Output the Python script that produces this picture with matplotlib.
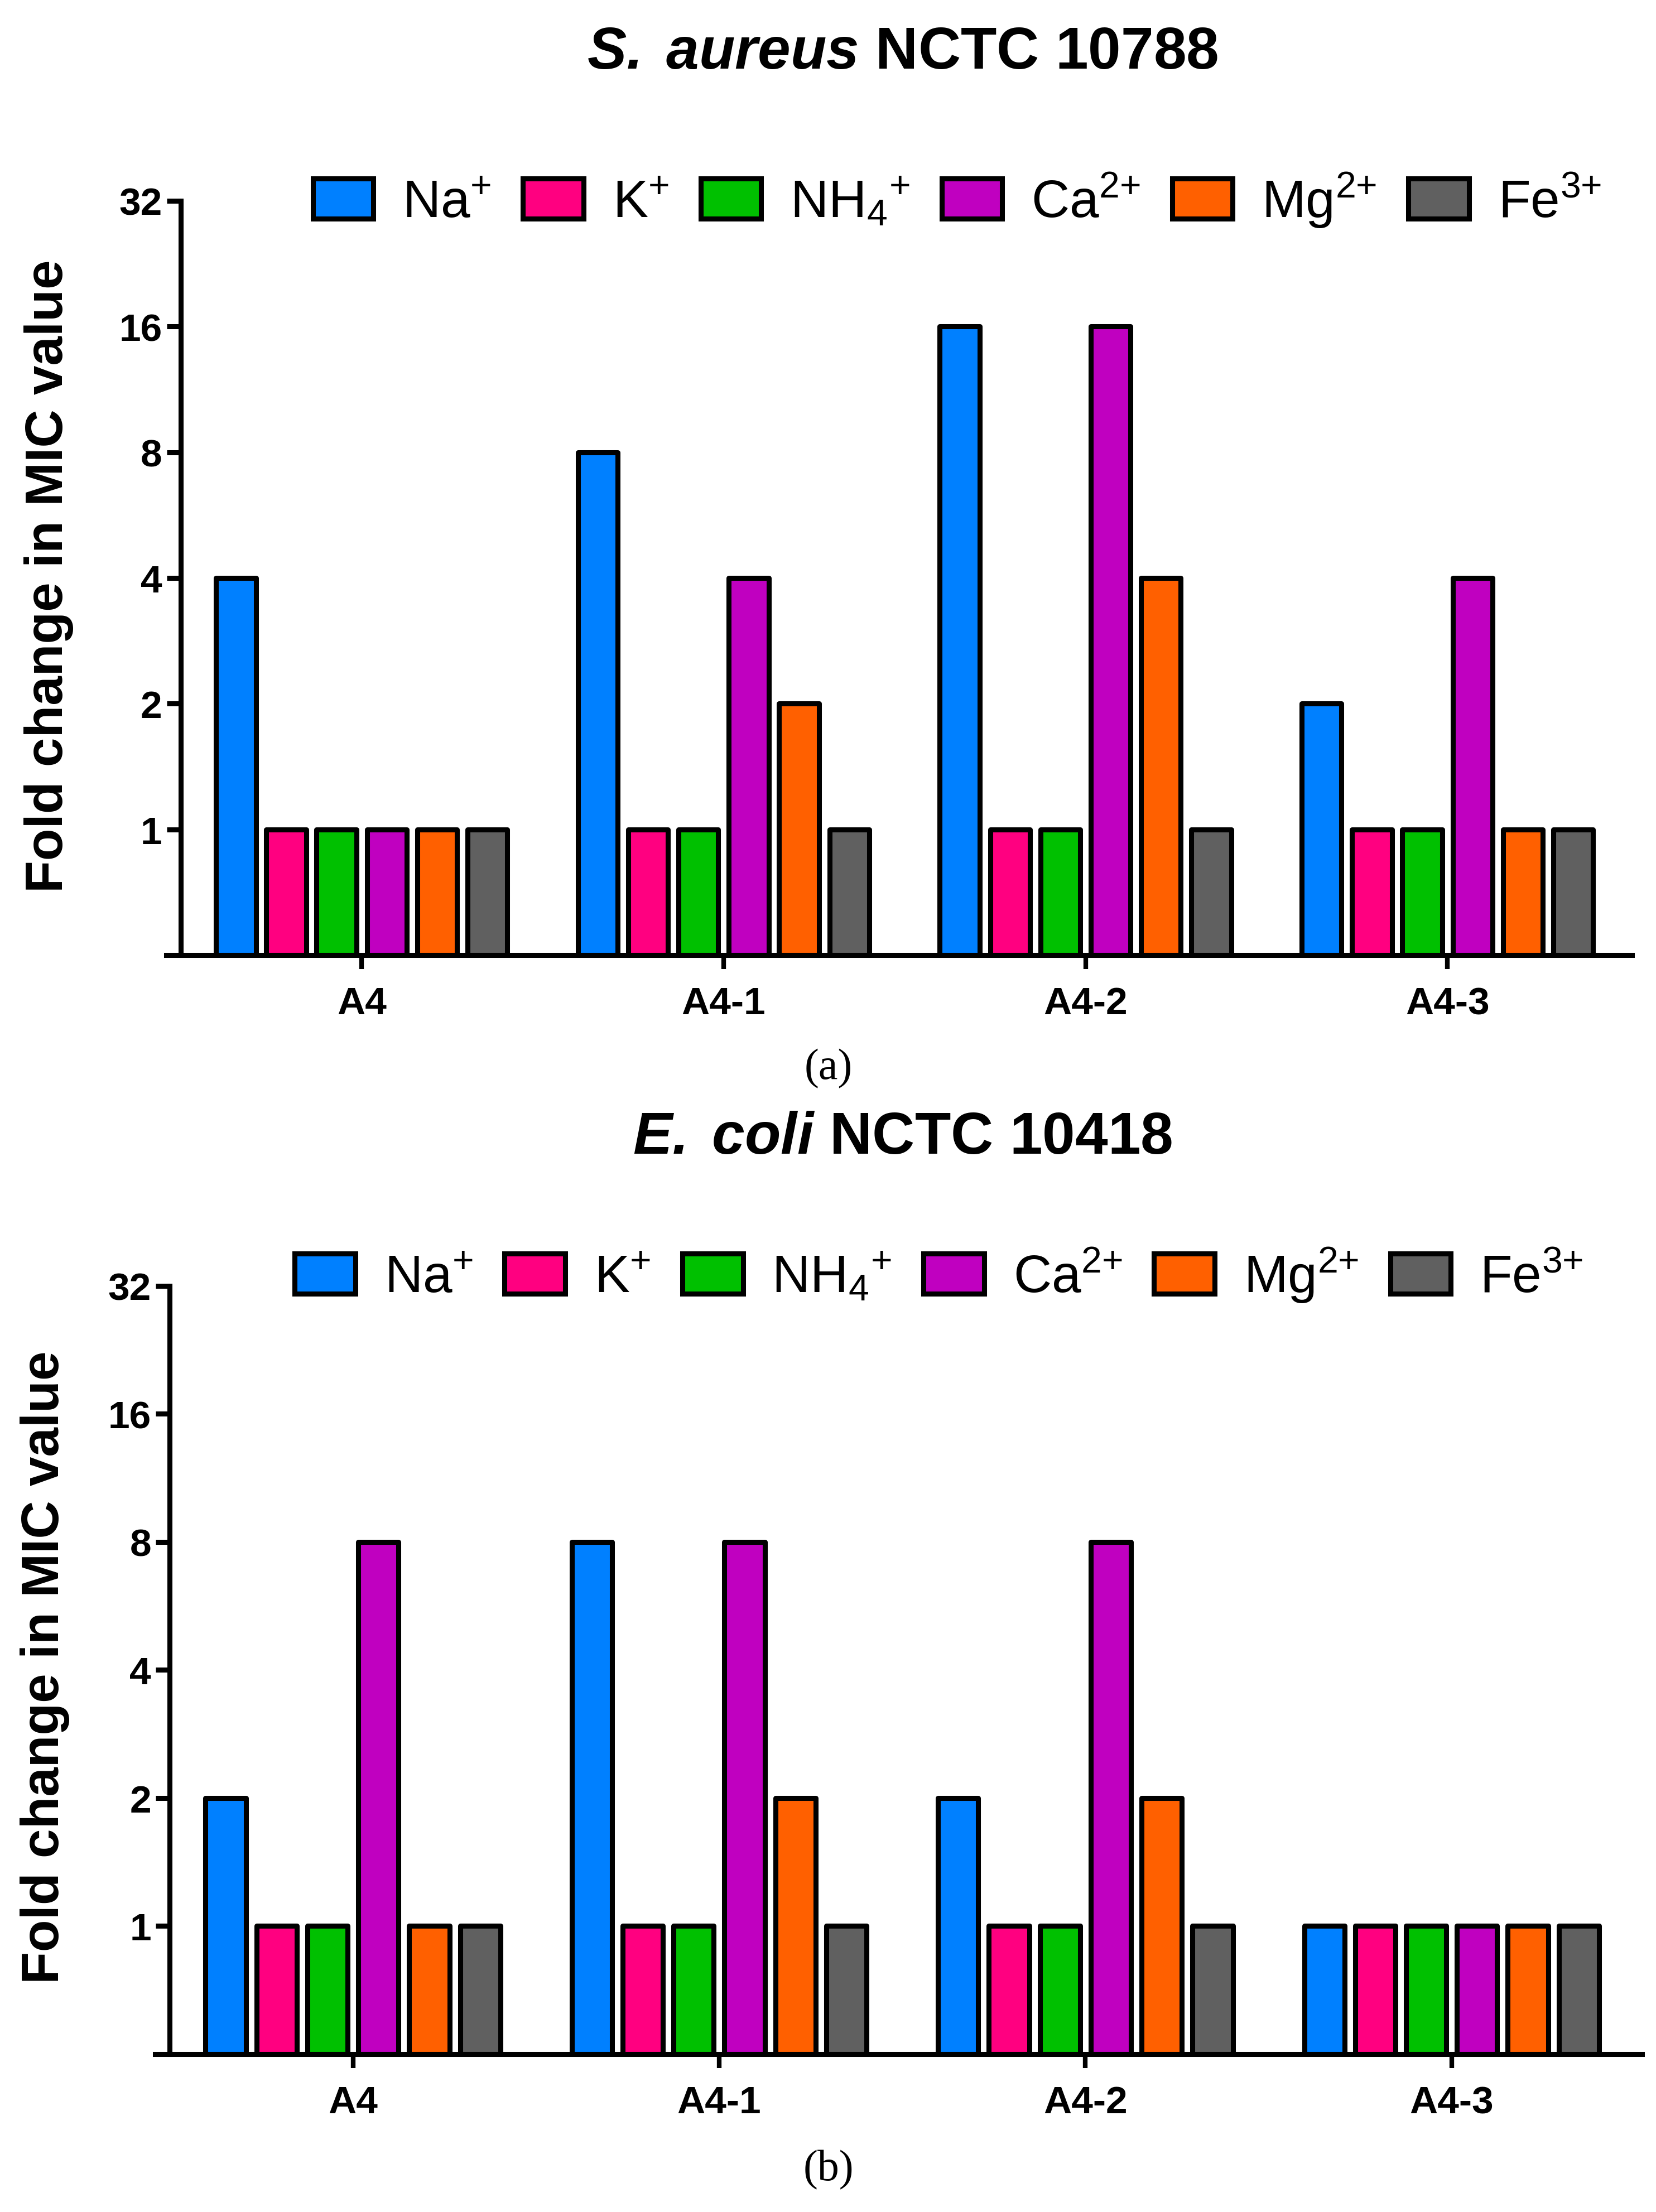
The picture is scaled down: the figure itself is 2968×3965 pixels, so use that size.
import numpy as np
import matplotlib
matplotlib.use('Agg')
import matplotlib.pyplot as plt
from matplotlib.ticker import NullLocator, FixedLocator, FixedFormatter

plt.rcParams['font.family'] = ['Liberation Sans', 'DejaVu Sans']
plt.rcParams['mathtext.fontset'] = 'custom'
plt.rcParams['mathtext.rm'] = 'Liberation Sans'
plt.rcParams['mathtext.it'] = 'Liberation Sans:italic'
plt.rcParams['mathtext.bf'] = 'Liberation Sans:bold'
plt.rcParams['mathtext.bfit'] = 'Liberation Sans:italic:bold'
plt.rcParams['mathtext.default'] = 'rm'

# ---------------- data ----------------
groups = ['A4', 'A4-1', 'A4-2', 'A4-3']
ions = [r'Na$^{\text{+}}$', r'K$^{\text{+}}$', r'NH$_{\text{4}}$$^{\text{+}}$',
        r'Ca$^{\text{2+}}$', r'Mg$^{\text{2+}}$', r'Fe$^{\text{3+}}$']
colors = ['#0080FF', '#FF0080', '#00C000', '#C000C0', '#FF6000', '#606060']

# S. aureus NCTC 10788 (fold change per group)
sa_na = [4, 8, 16, 2]
sa_k = [1, 1, 1, 1]
sa_nh4 = [1, 1, 1, 1]
sa_ca = [1, 4, 16, 4]
sa_mg = [1, 2, 4, 1]
sa_fe = [1, 1, 1, 1]

# E. coli NCTC 10418
ec_na = [2, 8, 2, 1]
ec_k = [1, 1, 1, 1]
ec_nh4 = [1, 1, 1, 1]
ec_ca = [8, 8, 8, 1]
ec_mg = [1, 2, 2, 1]
ec_fe = [1, 1, 1, 1]

yticks = [1, 2, 4, 8, 16, 32]
ytick_labels = ['1', '2', '4', '8', '16', '32']

panels = [
    dict(series=[sa_na, sa_k, sa_nh4, sa_ca, sa_mg, sa_fe],
         title=r'$\mathbfit{S.\;aureus}$ NCTC 10788', tag='(a)',
         rect=[0.1004, 0.5681, 0.8851, 0.3409], xlim=(-0.54, 3.51),
         title_xy=(0.545, 0.9758), tag_xy=(0.5004, 0.5170),
         leg_xy=(0.578, 0.9095), ylab_xy=(0.0296, 0.7395)),
    dict(series=[ec_na, ec_k, ec_nh4, ec_ca, ec_mg, ec_fe],
         title=r'$\mathbfit{E.\;coli}$ NCTC 10418', tag='(b)',
         rect=[0.0937, 0.0714, 0.8979, 0.3472], xlim=(-0.54, 3.52),
         title_xy=(0.545, 0.4854), tag_xy=(0.5004, 0.0192),
         leg_xy=(0.567, 0.4236), ylab_xy=(0.0270, 0.2464)),
]

fig = plt.figure(figsize=(29.68, 39.66), dpi=100)
fig.patch.set_facecolor('white')

x = np.arange(len(groups))
step = 0.139
width = 0.110
edge_lw = 6.5
ybase = 0.5

for p in panels:
    ax = fig.add_axes(p['rect'])
    ax.set_yscale('log', base=2)
    ax.set_ylim(ybase, 32)
    ax.set_xlim(*p['xlim'])
    for i, (vals, col, lab) in enumerate(zip(p['series'], colors, ions)):
        v = np.array(vals, dtype=float)
        b = ax.bar(x + (i - 2.5) * step, v - ybase, bottom=ybase, width=width,
                   color=col, edgecolor='black', linewidth=edge_lw, label=lab,
                   zorder=3)
        for r in b:
            r.set_joinstyle('round')

    for s in ['top', 'right']:
        ax.spines[s].set_visible(False)
    ax.spines['left'].set_position(('data', -0.5))
    ax.spines['left'].set_bounds(ybase, 32)
    ax.spines['left'].set_linewidth(6.5)
    ax.spines['bottom'].set_linewidth(6.5)
    ax.spines['bottom'].set_zorder(4)

    ax.yaxis.set_major_locator(FixedLocator(yticks))
    ax.yaxis.set_major_formatter(FixedFormatter(ytick_labels))
    ax.yaxis.set_minor_locator(NullLocator())
    ax.set_xticks(x)
    ax.set_xticklabels(groups)
    ax.tick_params(axis='y', length=18, width=6.5, labelsize=50, pad=6)
    ax.tick_params(axis='x', length=18, width=6, labelsize=50, pad=22)
    for t in ax.get_xticklabels() + ax.get_yticklabels():
        t.set_fontweight('bold')

    ax.legend(loc='center', bbox_to_anchor=p['leg_xy'], bbox_transform=fig.transFigure,
              ncol=6, frameon=False, fontsize=68, handlelength=1.15, handleheight=0.8,
              handletextpad=0.55, columnspacing=0.6, borderpad=0, borderaxespad=0)

    fig.text(p['title_xy'][0], p['title_xy'][1], p['title'], ha='center', va='center',
             fontsize=76, fontweight='bold')
    fig.text(p['ylab_xy'][0], p['ylab_xy'][1], 'Fold change in MIC value', rotation=90,
             ha='center', va='center', fontsize=68, fontweight='bold')
    fig.text(p['tag_xy'][0], p['tag_xy'][1], p['tag'], ha='center', va='center',
             fontsize=56, family=['Liberation Serif', 'DejaVu Serif'])

fig.savefig('out.png', dpi=100, facecolor='white')
